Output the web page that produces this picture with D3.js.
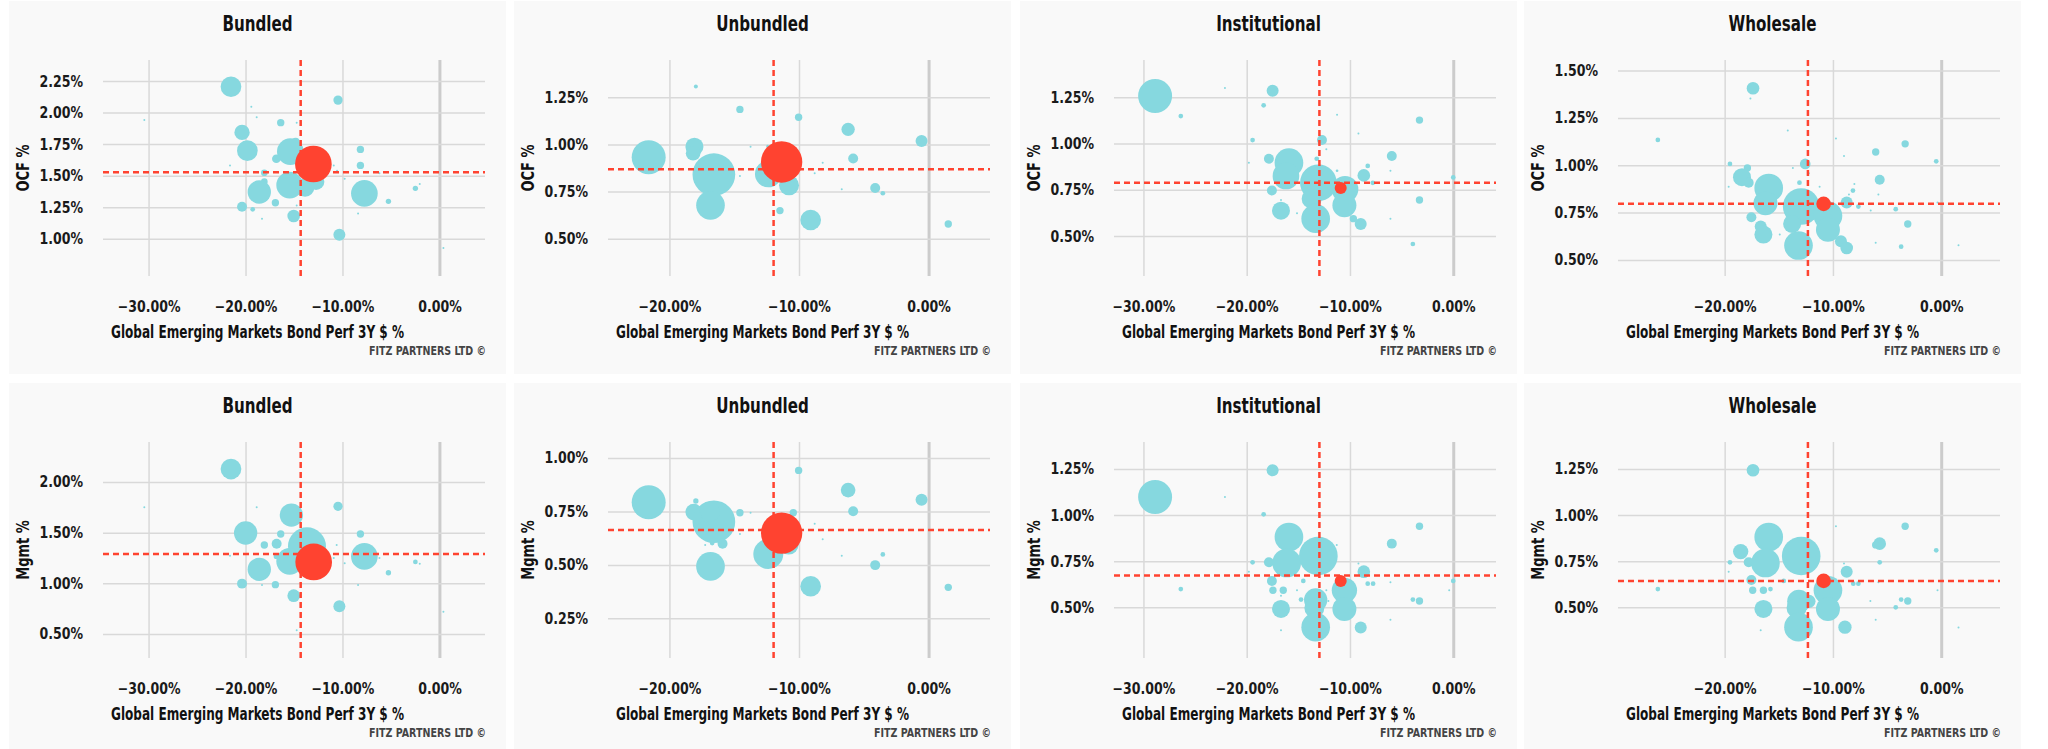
<!DOCTYPE html>
<html lang="en">
<head>
<meta charset="utf-8">
<title>Global Emerging Markets Bond - fees vs performance</title>
<script src="https://cdn.jsdelivr.net/npm/d3@7"></script>
<style>
  body { margin: 0; background: white; }
  svg text { font-family: "Liberation Sans Narrow", "DejaVu Sans Condensed", sans-serif; font-weight: bold; }
  .grid line { stroke: #d9d9d9; stroke-width: 1.5; }
  .tick text { fill: #1a1a1a; font-size: 15px; }
</style>
</head>
<body>
<div id="chart"></div>
<script>
// [perf 3Y %, fee %, AUM $m]
var bundledOcf = [
  [-21.5, 2.205, 267], [-10.46, 2.099, 54], [-19.4, 2.047, 2.5], [-18.85, 1.962, 2.5],
  [-30.44, 1.941, 2.5], [-16.37, 1.920, 34], [-14.72, 1.920, 2.5], [-20.36, 1.843, 147],
  [-19.81, 1.698, 267], [-14.83, 1.769, 40], [-15.38, 1.690, 444], [-16.82, 1.634, 47],
  [-21.6, 1.581, 2.5], [-8.15, 1.708, 34], [-8.15, 1.581, 34], [-18.06, 1.523, 28],
  [-18.06, 1.452, 28], [-18.58, 1.370, 340], [-15.45, 1.425, 444], [-13.86, 1.407, 218],
  [-12.73, 1.452, 174], [-10.9, 1.581, 2.5], [-10.56, 1.539, 2.5], [-9.77, 1.476, 2.5],
  [-7.74, 1.359, 444], [-6.19, 1.518, 2.5], [-5.26, 1.296, 18], [-2.48, 1.399, 18],
  [-2.03, 1.433, 2.5], [0.41, 0.926, 2.5], [-10.32, 1.032, 90], [-15.03, 1.180, 100],
  [-16.92, 1.285, 34], [-20.36, 1.254, 62], [-19.26, 1.233, 14], [-18.3, 1.159, 2.5],
  [-14.72, 1.264, 2.5], [-8.39, 1.200, 2.5]
];
var unbundledOcf = [
  [-17.96, 1.307, 10], [-14.56, 1.186, 34], [-10.03, 1.144, 34], [-6.21, 1.080, 111],
  [-0.54, 1.018, 90], [-21.6, 0.932, 722], [-18.07, 0.988, 203], [-18.17, 0.953, 134],
  [-16.57, 0.840, 1138], [-16.83, 0.677, 514], [-13.74, 0.988, 2.5], [-14.56, 0.833, 2.5],
  [-12.37, 0.843, 444], [-12.42, 0.991, 4.4], [-10.77, 0.783, 250], [-11.47, 0.649, 34],
  [-9.10, 0.599, 267], [-8.17, 0.903, 2.5], [-8.79, 0.847, 2.5], [-5.82, 0.925, 62],
  [-6.70, 0.762, 2.5], [-4.12, 0.769, 62], [-3.53, 0.741, 14], [1.52, 0.578, 34]
];
var institutionalOcf = [
  [-28.87, 1.257, 722], [-26.38, 1.149, 14], [-22.11, 1.300, 2.5], [-17.49, 1.286, 90],
  [-18.36, 1.207, 14], [-19.43, 1.019, 14], [-19.79, 0.897, 2.5], [-17.85, 0.918, 62],
  [-15.91, 0.897, 514], [-16.20, 0.825, 444], [-17.56, 0.746, 62], [-16.68, 0.695, 2.5],
  [-16.68, 0.637, 203], [-15.13, 0.623, 2.5], [-13.06, 0.788, 840], [-13.71, 0.702, 250],
  [-13.39, 0.623, 250], [-13.32, 0.594, 514], [-12.71, 1.019, 62], [-12.29, 0.969, 2.5],
  [-13.22, 0.918, 14], [-11.25, 1.156, 2.5], [-11.25, 0.853, 4.4], [-10.48, 0.753, 444],
  [-10.54, 0.666, 360], [-9.67, 0.594, 34], [-8.96, 0.565, 90], [-9.18, 1.055, 2.5],
  [-8.66, 0.828, 100], [-8.28, 0.879, 14], [-7.79, 0.788, 14], [-5.95, 0.933, 62],
  [-6.08, 0.853, 2.5], [-6.08, 0.594, 2.5], [-3.27, 1.127, 34], [-3.27, 0.695, 34],
  [-3.91, 0.457, 14], [0.0, 0.817, 14]
];
var wholesaleOcf = [
  [-17.38, 1.407, 100], [-17.62, 1.352, 2.5], [-26.17, 1.134, 14], [-14.17, 1.183, 2.5],
  [-9.72, 1.141, 2.5], [-6.05, 1.070, 34], [-3.33, 1.113, 34], [-0.46, 1.021, 14],
  [-19.51, 1.007, 14], [-17.90, 0.986, 34], [-18.40, 0.937, 203], [-17.78, 0.908, 62],
  [-19.63, 0.887, 2.5], [-15.93, 0.880, 514], [-16.23, 0.799, 360], [-17.53, 0.725, 62],
  [-16.67, 0.676, 90], [-16.42, 0.634, 203], [-14.91, 0.634, 2.5], [-12.56, 1.007, 71],
  [-13.70, 0.986, 2.5], [-12.22, 0.958, 2.5], [-13.09, 0.908, 14], [-12.93, 0.782, 840],
  [-13.77, 0.690, 203], [-13.18, 0.576, 514], [-11.23, 0.887, 2.5], [-10.46, 0.733, 514],
  [-10.46, 0.659, 360], [-9.26, 0.599, 90], [-8.73, 0.563, 100], [-8.73, 0.803, 90],
  [-8.15, 0.866, 14], [-8.02, 0.901, 2.5], [-8.52, 0.845, 2.5], [-8.98, 1.049, 2.5],
  [-7.65, 0.782, 14], [-6.51, 0.761, 2.5], [-5.68, 0.923, 62], [-5.80, 0.845, 2.5],
  [-4.20, 0.768, 14], [-3.09, 0.690, 34], [-3.70, 0.570, 14], [-6.05, 0.591, 2.5],
  [-0.34, 0.803, 2.5], [1.60, 0.577, 2.5]
];
var bundledMgmt = [
  [-21.5, 2.128, 267], [-10.46, 1.760, 54], [-30.44, 1.750, 2.5], [-18.85, 1.750, 2.5],
  [-15.27, 1.674, 340], [-19.99, 1.497, 340], [-16.37, 1.487, 34], [-18.06, 1.378, 34],
  [-16.79, 1.391, 62], [-8.15, 1.487, 34], [-13.66, 1.365, 902], [-15.45, 1.217, 444],
  [-7.74, 1.266, 444], [-10.6, 1.378, 2.5], [-10.9, 1.250, 2.5], [-9.77, 1.197, 2.5],
  [-6.19, 1.250, 2.5], [-16.82, 1.266, 18], [-21.6, 1.273, 2.5], [-18.58, 1.138, 340],
  [-20.36, 0.997, 62], [-18.3, 0.984, 2.5], [-16.92, 0.987, 34], [-15.03, 0.878, 100],
  [-10.32, 0.773, 90], [-5.26, 1.105, 18], [-2.48, 1.211, 14], [-2.03, 1.194, 2.5],
  [-8.39, 0.984, 2.5], [0.41, 0.720, 2.5], [-14.72, 0.536, 2.5]
];
var unbundledMgmt = [
  [-10.03, 0.942, 34], [-6.21, 0.850, 134], [-0.54, 0.805, 90], [-5.82, 0.751, 62],
  [-21.6, 0.793, 722], [-17.96, 0.799, 18], [-18.12, 0.747, 174], [-16.57, 0.702, 1138],
  [-16.88, 0.750, 250], [-17.35, 0.673, 111], [-15.9, 0.599, 62], [-16.7, 0.602, 14],
  [-17.24, 0.593, 2.5], [-16.83, 0.493, 514], [-14.56, 0.744, 34], [-13.74, 0.744, 2.5],
  [-14.56, 0.645, 2.5], [-12.37, 0.551, 562], [-10.44, 0.744, 34], [-10.8, 0.595, 250],
  [-9.10, 0.400, 267], [-8.79, 0.693, 2.5], [-8.17, 0.620, 2.5], [-6.70, 0.543, 2.5],
  [-4.12, 0.499, 62], [-3.53, 0.549, 14], [1.52, 0.395, 34]
];
var institutionalMgmt = [
  [-28.87, 1.098, 722], [-17.49, 1.243, 90], [-22.11, 1.098, 2.5], [-18.36, 1.004, 14],
  [-26.38, 0.599, 14], [-15.91, 0.881, 514], [-19.43, 0.744, 14], [-17.85, 0.744, 62],
  [-16.13, 0.740, 514], [-19.79, 0.693, 2.5], [-17.56, 0.643, 62], [-17.46, 0.592, 34],
  [-16.46, 0.592, 34], [-16.68, 0.563, 2.5], [-16.68, 0.491, 203], [-16.68, 0.375, 2.5],
  [-13.06, 0.778, 934], [-14.52, 0.643, 14], [-15.13, 0.592, 2.5], [-14.74, 0.542, 14],
  [-13.32, 0.540, 340], [-13.45, 0.496, 250], [-13.32, 0.392, 514], [-11.28, 0.838, 2.5],
  [-12.29, 0.592, 2.5], [-12.09, 0.534, 2.5], [-10.54, 0.592, 401], [-10.54, 0.491, 360],
  [-9.18, 0.737, 2.5], [-8.66, 0.693, 100], [-8.28, 0.628, 14], [-7.76, 0.628, 14],
  [-8.96, 0.390, 90], [-5.95, 0.845, 62], [-6.08, 0.636, 2.5], [-6.08, 0.433, 2.5],
  [-3.27, 0.939, 34], [-3.91, 0.542, 14], [-3.27, 0.534, 34], [0.0, 0.643, 14],
  [-0.39, 0.592, 2.5]
];
var wholesaleMgmt = [
  [-17.38, 1.243, 100], [-26.17, 0.599, 14], [-9.72, 0.939, 2.5], [-3.33, 0.939, 34],
  [-5.68, 0.845, 100], [-6.05, 0.838, 34], [-0.46, 0.809, 14], [-5.68, 0.744, 14],
  [-15.93, 0.881, 514], [-18.52, 0.802, 147], [-19.51, 0.744, 14], [-17.78, 0.744, 62],
  [-16.23, 0.740, 514], [-19.63, 0.693, 2.5], [-17.53, 0.648, 62], [-17.41, 0.592, 34],
  [-16.42, 0.592, 34], [-15.77, 0.599, 14], [-16.42, 0.491, 203], [-16.67, 0.375, 2.5],
  [-12.93, 0.778, 934], [-14.54, 0.643, 14], [-13.15, 0.532, 340], [-12.22, 0.532, 111],
  [-13.36, 0.496, 250], [-13.18, 0.392, 514], [-10.46, 0.592, 514], [-10.46, 0.491, 360],
  [-8.89, 0.392, 111], [-8.73, 0.693, 90], [-8.12, 0.628, 14], [-7.65, 0.628, 14],
  [-8.98, 0.737, 2.5], [-6.54, 0.534, 2.5], [-6.05, 0.433, 2.5], [-4.20, 0.500, 14],
  [-3.70, 0.542, 14], [-3.09, 0.534, 34], [-0.34, 0.592, 2.5], [1.60, 0.390, 2.5],
  [-5.80, 0.636, 2.5]
];

// highlighted fund [perf, fee, aum] and peer averages [perf, fee]
var fundPoints = [
  [-13.0, 1.592, 840], [-11.34, 0.907, 1068], [-10.90, 0.760, 90], [-10.86, 0.796, 134],
  [-12.97, 1.211, 840], [-11.34, 0.649, 1068], [-10.90, 0.643, 90], [-10.86, 0.643, 134]
];
var averages = [
  [-14.31, 1.527], [-11.96, 0.868], [-12.96, 0.788], [-12.31, 0.796],
  [-14.31, 1.289], [-11.96, 0.663], [-12.96, 0.672], [-12.31, 0.643]
];

var titles = ["Bundled", "Unbundled", "Institutional", "Wholesale"];
var yLabels = ["OCF %", "Mgmt %"];
var xTicksWide = [-30, -20, -10, 0];
var xTicksNarrow = [-20, -10, 0];
var yTickSets = [
  [1.00, 1.25, 1.50, 1.75, 2.00, 2.25], [0.50, 0.75, 1.00, 1.25], [0.50, 0.75, 1.00, 1.25],
  [0.50, 0.75, 1.00, 1.25, 1.50],
  [0.50, 1.00, 1.50, 2.00], [0.25, 0.50, 0.75, 1.00], [0.50, 0.75, 1.00, 1.25], [0.50, 0.75, 1.00, 1.25]
];

var seriesList = [bundledOcf, unbundledOcf, institutionalOcf, wholesaleOcf,
                  bundledMgmt, unbundledMgmt, institutionalMgmt, wholesaleMgmt];

// axis ranges per panel
var xDomains = [[-34.7, 4.7], [-24.74, 4.74], [-32.85, 4.14], [-29.85, 5.43]];
var yDomains = [[0.704, 2.417], [0.302, 1.448], [0.284, 1.452], [0.415, 1.556],
                [0.263, 2.395], [0.0644, 1.075], [0.225, 1.396], [0.225, 1.396]];

var W = 2048, H = 749;
var panelLefts = [9, 514, 1020, 1524];
var panelTops = [1, 383];
var panelW = 497, panelH = 373;
var plotL = 94, plotT = 59, plotW = 382, plotH = 216;

var cyan = "#86d8df", red = "#ff4330";

var svg = d3.select("#chart").append("svg")
    .attr("width", W).attr("height", H);

var rScale = d3.scaleSqrt().domain([0, 1000]).range([0, 20]);
var pctFmt = function(d) { return d3.format(".2f")(d) + "%"; };

// the original uses a narrow typeface: squeeze the installed one horizontally
function squeeze(sel, k) {
    sel.each(function() {
        var len = this.getComputedTextLength();
        d3.select(this).attr("textLength", len * k).attr("lengthAdjust", "spacingAndGlyphs");
    });
}
function fitWidth(sel, w) {
    sel.attr("textLength", w).attr("lengthAdjust", "spacingAndGlyphs");
}

seriesList.forEach(function(data, i) {
    var col = i % 4, row = Math.floor(i / 4);
    var g = svg.append("g")
        .attr("transform", "translate(" + panelLefts[col] + "," + panelTops[row] + ")");

    g.append("rect")
        .attr("width", panelW).attr("height", panelH)
        .attr("fill", "#f9f9f9");

    var x = d3.scaleLinear().domain(xDomains[col]).range([plotL, plotL + plotW]);
    var y = d3.scaleLinear().domain(yDomains[i]).range([plotT + plotH, plotT]);
    var xTicks = (col === 0 || col === 2) ? xTicksWide : xTicksNarrow;

    // grid + axes
    var gx = g.append("g")
        .attr("class", "grid")
        .attr("transform", "translate(0," + (plotT + plotH) + ")")
        .call(d3.axisBottom(x).tickValues(xTicks).tickSize(-plotH).tickPadding(25).tickFormat(pctFmt));
    gx.select(".domain").remove();
    gx.selectAll(".tick line")
        .filter(function(d) { return d === 0; })
        .style("stroke", "#cccccc").style("stroke-width", 3);
    gx.selectAll(".tick text").style("font-size", "15.5px").call(squeeze, 0.9);

    var gy = g.append("g")
        .attr("class", "grid")
        .attr("transform", "translate(" + plotL + ",0)")
        .call(d3.axisLeft(y).tickValues(yTickSets[i]).tickSize(-plotW).tickPadding(20).tickFormat(pctFmt));
    gy.select(".domain").remove();
    gy.selectAll(".tick text").style("font-size", "15.5px").call(squeeze, 0.9);

    // peer bubbles
    g.append("g").selectAll("circle")
        .data(data)
        .enter()
        .append("circle")
        .attr("cx", function(d) { return x(d[0]); })
        .attr("cy", function(d) { return y(d[1]); })
        .attr("r", function(d) { return rScale(d[2]); })
        .attr("fill", cyan);

    // average lines
    var avg = averages[i];
    g.append("line")
        .attr("x1", plotL).attr("x2", plotL + plotW)
        .attr("y1", y(avg[1])).attr("y2", y(avg[1]))
        .attr("stroke", red).attr("stroke-width", 2.5).attr("stroke-dasharray", "6,4");
    g.append("line")
        .attr("x1", x(avg[0])).attr("x2", x(avg[0]))
        .attr("y1", plotT).attr("y2", plotT + plotH)
        .attr("stroke", red).attr("stroke-width", 2.5).attr("stroke-dasharray", "6,4");

    // highlighted fund
    var f = fundPoints[i];
    g.append("circle")
        .attr("cx", x(f[0])).attr("cy", y(f[1]))
        .attr("r", rScale(f[2]))
        .attr("fill", red);

    // texts
    g.append("text")
        .attr("x", panelW / 2).attr("y", 30)
        .attr("text-anchor", "middle")
        .style("font-size", "21px").attr("fill", "#111")
        .text(titles[col])
        .call(squeeze, 0.8);

    g.append("text")
        .attr("transform", "translate(14," + (plotT + plotH / 2) + ") rotate(-90)")
        .attr("text-anchor", "middle")
        .attr("dominant-baseline", "central")
        .style("font-size", "17px").attr("fill", "#111")
        .text(yLabels[row])
        .call(squeeze, 0.85);

    g.append("text")
        .attr("x", panelW / 2).attr("y", 337)
        .attr("text-anchor", "middle")
        .style("font-size", "17px").attr("fill", "#111")
        .text("Global Emerging Markets Bond Perf 3Y $ %")
        .call(fitWidth, 293);

    g.append("text")
        .attr("x", plotL + plotW + 1).attr("y", 354)
        .attr("text-anchor", "end")
        .style("font-size", "13px").attr("fill", "#444")
        .text("FITZ PARTNERS LTD \u00a9")
        .call(fitWidth, 117);
});
</script>
</body>
</html>
